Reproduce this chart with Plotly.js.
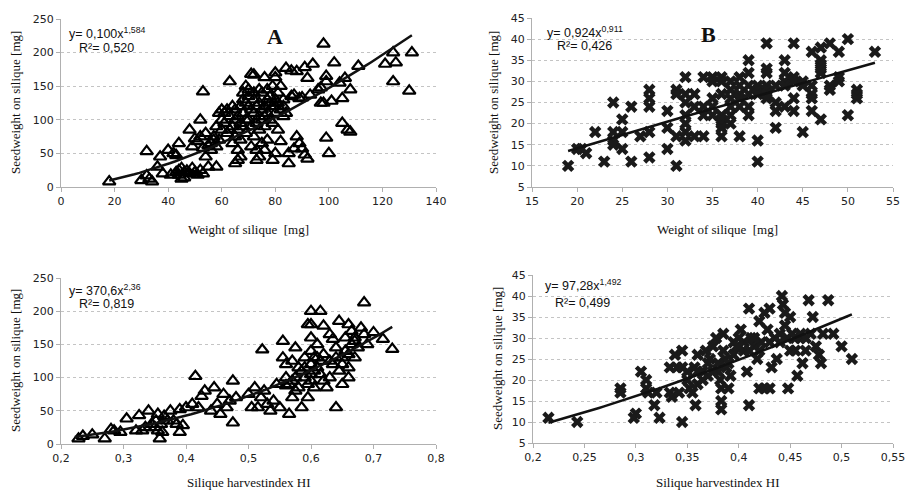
<!DOCTYPE html>
<html>
<head>
<meta charset="utf-8">
<script src="https://cdn.plot.ly/plotly-3.0.1.min.js"></script>
<style>html,body{margin:0;padding:0;background:#fff}#chart{width:906px;height:492px}</style>
</head>
<body>
<div id="chart"></div>
<script>
// ---- Panel A: weight of silique vs seed weight (triangles) ----
const aX = [18,30,32,33,34,32,36,37,38,40,41,42,43,43,44,44,45,45,46,46,47,48,49,50,51,52,53,44,48,49,50,51,52,52,53,53,54,54,55,56,55,57,58,58,59,60,60,61,62,62,63,63,64,64,65,65,65,66,66,66,65,67,67,67,68,68,68,69,69,69,70,70,70,71,71,71,72,72,72,72,72,73,73,73,74,74,74,74,75,75,75,76,76,76,76,77,77,77,77,78,78,79,79,79,80,80,80,80,80,81,81,82,82,82,83,83,84,85,85,86,86,87,87,88,88,89,89,90,90,91,91,92,92,93,94,96,97,97,98,98,99,99,99,100,101,102,104,105,105,106,107,108,108,111,121,124,124,125,130,131,56,57,58,59,60,61,63,64,66,67,68,69,70,71,73,74,75,76,78,79,80,81,83,84];
const aY = [8,10,17,12,8,53,30,45,20,55,18,50,47,22,25,18,12,28,22,14,24,20,28,22,18,25,20,65,85,60,72,68,75,100,142,58,80,45,62,55,30,70,30,90,110,85,100,95,80,115,157,105,120,90,115,100,75,85,55,40,35,45,70,95,110,130,140,150,100,80,135,120,145,168,90,60,167,140,130,110,75,55,95,40,45,125,105,145,140,115,65,55,163,90,120,145,130,110,70,100,135,40,120,150,170,163,130,110,50,85,125,68,115,150,105,120,177,50,35,135,173,137,57,172,75,132,65,133,57,178,48,42,162,137,183,145,125,148,213,125,165,157,73,50,128,185,155,132,95,162,85,82,145,180,183,200,157,185,143,200,65,75,60,70,115,110,85,65,105,120,90,125,100,115,120,85,100,105,125,95,120,140,130,110];
const aFit = [0.100, 1.584];   // y = a*x^b (from chart)
const aFitRange = [18, 131];

// ---- Panel B: weight of silique vs seed weight (crosses) ----
const bX = [19,20,20.5,21,22,23,24,24,24,24,25,25,25,26,26,27,28,28,28,28,28,30,30,30,31,31,31,31,32,32,32,32,32,32,32,33,33,33,34,34,34,34,35,35,35,35,35,36,36,36,36,36,36,36,36,37,37,37,37,37,37,38,38,38,38,38,38,39,39,39,39,39,39,40,40,40,40,40,41,41,41,41,41,41,41,42,42,42,42,43,43,43,43,43,44,44,44,44,44,45,45,45,46,46,46,46,46,47,47,47,47,47,47,48,48,48,49,49,49,50,50,51,51,51,53];
const bY = [10,14,14,13,18,11,25,18,16,15,21,18,14,24,11,17,28,26,24,18,12,23,19,14,28,27,17,10,31,27,25,22,20,18,16,27,24,17,31,24,22,17,31,30,26,24,22,31,30,27,22,21,20,19,17,30,28,26,24,22,20,31,29,27,26,24,17,35,32,29,27,24,22,29,28,27,16,11,39,33,32,29,28,27,26,29,25,23,19,35,32,30,29,24,39,31,30,26,23,30,29,18,37,29,27,26,23,38,35,34,33,32,21,39,29,28,37,31,30,40,22,28,27,26,37];
const bFit = [0.924, 0.911];
const bFitRange = [19, 53];

// ---- Panel C: silique harvest index vs seed weight (triangles) ----
const cX = [0.228,0.235,0.25,0.27,0.28,0.285,0.295,0.305,0.32,0.325,0.33,0.335,0.34,0.345,0.35,0.352,0.355,0.355,0.358,0.36,0.362,0.365,0.37,0.375,0.38,0.385,0.39,0.39,0.395,0.4,0.41,0.415,0.42,0.425,0.43,0.44,0.445,0.45,0.455,0.46,0.465,0.47,0.475,0.475,0.48,0.5,0.505,0.51,0.515,0.52,0.522,0.525,0.53,0.535,0.54,0.545,0.55,0.555,0.555,0.56,0.56,0.565,0.565,0.57,0.57,0.575,0.575,0.58,0.585,0.585,0.59,0.59,0.595,0.595,0.6,0.6,0.6,0.6,0.6,0.6,0.605,0.605,0.61,0.61,0.615,0.615,0.62,0.62,0.625,0.63,0.63,0.635,0.635,0.64,0.64,0.645,0.645,0.65,0.65,0.655,0.66,0.66,0.66,0.665,0.665,0.67,0.67,0.675,0.68,0.685,0.685,0.69,0.7,0.715,0.73,0.57,0.58,0.59,0.6,0.61,0.62,0.63,0.64,0.65,0.655,0.66,0.67,0.615,0.605,0.595,0.575,0.56];
const cY = [8,12,14,8,22,20,18,38,20,43,20,25,50,30,25,35,45,20,8,30,18,42,35,50,35,30,52,18,28,55,60,102,55,72,80,50,85,60,45,75,55,65,32,95,70,75,55,85,55,70,142,80,60,50,65,90,55,130,155,120,100,45,90,125,70,145,100,85,55,110,100,130,180,70,200,180,160,140,120,95,130,110,150,130,200,125,178,95,85,165,100,158,120,55,145,185,110,90,130,140,180,115,100,170,150,160,130,145,175,165,213,150,168,158,143,95,115,115,105,115,135,125,130,120,160,135,155,105,85,90,80,88];
const cFit = [370.6, 2.36];
const cFitRange = [0.222, 0.73];

// ---- Panel D: silique harvest index vs seed weight (crosses) ----
const dX = [0.215,0.243,0.285,0.285,0.298,0.3,0.305,0.31,0.31,0.312,0.318,0.32,0.323,0.333,0.333,0.335,0.338,0.34,0.342,0.345,0.345,0.345,0.35,0.352,0.355,0.357,0.358,0.36,0.36,0.365,0.368,0.37,0.372,0.375,0.378,0.38,0.38,0.382,0.383,0.383,0.383,0.385,0.385,0.387,0.388,0.39,0.392,0.395,0.398,0.4,0.402,0.405,0.405,0.408,0.41,0.41,0.412,0.415,0.418,0.42,0.42,0.422,0.425,0.425,0.428,0.43,0.43,0.432,0.435,0.437,0.44,0.442,0.443,0.445,0.445,0.447,0.448,0.45,0.45,0.452,0.455,0.457,0.46,0.462,0.465,0.468,0.47,0.472,0.475,0.478,0.48,0.482,0.487,0.492,0.5,0.51,0.395,0.4,0.41,0.415,0.42,0.43,0.44,0.39,0.37,0.365,0.455,0.46,0.465,0.375,0.35,0.36];
const dY = [11,10,18,17,11,12,22,20,18,17,14,17,11,23,17,16,26,23,17,27,23,10,20,18,17,23,14,26,19,22,27,21,25,28,30,24,22,20,18,15,13,31,27,25,23,18,21,29,28,30,32,29,27,22,37,14,30,28,25,34,18,29,36,18,32,37,18,23,30,25,31,40,38,36,33,30,18,35,27,31,27,21,30,24,27,39,31,35,28,26,24,31,39,31,28,25,26,28,27,30,27,29,29,24,24,20,30,31,30,22,22,22];
const dFit = [97.28, 1.492];
const dFitRange = [0.215, 0.51];

const yTitle = 'Seedweight on silique [mg]';
const xTitleTop = 'Weight of silique  [mg]';
const xTitleBottom = 'Silique harvestindex HI';

function fitLine(fit, range) {
  const xs = [], ys = [];
  const n = 60;
  for (let i = 0; i <= n; i++) {
    const x = range[0] + (range[1] - range[0]) * i / n;
    xs.push(x); ys.push(fit[0] * Math.pow(x, fit[1]));
  }
  return {xs, ys};
}

const tri = {symbol: 'triangle-up-open', size: 11, color: '#000', line: {width: 2.2, color: '#000'}};
const crs = {symbol: 'x', size: 11, color: '#1a1a1a', line: {width: 0}};
const lineStyle = {color: '#111', width: 2.5};

const panels = [
  {x: aX, y: aY, fit: aFit, r: aFitRange, m: tri, xa: 'x', ya: 'y'},
  {x: bX, y: bY, fit: bFit, r: bFitRange, m: crs, xa: 'x2', ya: 'y2'},
  {x: cX, y: cY, fit: cFit, r: cFitRange, m: tri, xa: 'x3', ya: 'y3'},
  {x: dX, y: dY, fit: dFit, r: dFitRange, m: crs, xa: 'x4', ya: 'y4'}
];
const traces = [];
panels.forEach(p => {
  traces.push({type: 'scatter', mode: 'markers', x: p.x, y: p.y, xaxis: p.xa, yaxis: p.ya, marker: p.m, hoverinfo: 'x+y'});
  const f = fitLine(p.fit, p.r);
  traces.push({type: 'scatter', mode: 'lines', x: f.xs, y: f.ys, xaxis: p.xa, yaxis: p.ya, line: lineStyle, hoverinfo: 'skip'});
});

const W = 906, H = 492;
const fx = v => v / W, fy = v => 1 - v / H;
const tickFont = {family: 'DejaVu Sans, sans-serif', size: 11, color: '#222'};
const titleFont = {family: 'Liberation Serif, serif', size: 13, color: '#111'};

function xAxis(dom, range, dtick, anchor) {
  return {domain: dom, range: range, dtick: dtick, tick0: range[0], anchor: anchor,
    showgrid: false, zeroline: false, showline: true, linecolor: '#b0b0b0', linewidth: 1,
    ticks: 'outside', ticklen: 4, tickcolor: '#b0b0b0', tickfont: tickFont,
    automargin: false, fixedrange: true};
}
function yAxis(dom, range, dtick, anchor) {
  return {domain: dom, range: range, dtick: dtick, tick0: range[0], anchor: anchor,
    showgrid: true, gridcolor: '#c4c4c4', griddash: 'dot', gridwidth: 1, zeroline: false,
    showline: true, linecolor: '#b0b0b0', linewidth: 1,
    ticks: 'outside', ticklen: 4, tickcolor: '#b0b0b0', tickfont: tickFont,
    automargin: false, fixedrange: true};
}

const eqFont = {family: 'Liberation Sans, sans-serif', size: 12.5, color: '#111'};
function eq(x, y, text) {
  return {xref: 'paper', yref: 'paper', x: fx(x), y: fy(y), xanchor: 'left', yanchor: 'middle', text: text, showarrow: false, font: eqFont};
}
function ttl(x, y, text, angle) {
  return {xref: 'paper', yref: 'paper', x: fx(x), y: fy(y), xanchor: 'center', yanchor: 'middle', text: text, textangle: angle, showarrow: false, font: titleFont};
}
const annotations = [
  {xref: 'paper', yref: 'paper', x: fx(265), y: fy(22), text: '<b>A</b>', showarrow: false, font: {family: 'Liberation Serif, serif', size: 22, color: '#111'}},
  {xref: 'paper', yref: 'paper', x: fx(718), y: fy(20), text: '<b>B</b>', showarrow: false, font: {family: 'Liberation Serif, serif', size: 22, color: '#111'}},
  eq(67, 33, 'y= 0,100x<sup>1,584</sup>'), eq(77, 48, 'R²= 0,520'),
  eq(545, 32, 'y= 0,924x<sup>0,911</sup>'), eq(555, 46, 'R²= 0,426'),
  eq(67, 290, 'y= 370,6x<sup>2,36</sup>'), eq(77, 304, 'R²= 0,819'),
  eq(543, 285, 'y= 97,28x<sup>1,492</sup>'), eq(553, 303, 'R²= 0,499'),
  ttl(15, 103, yTitle, -90), ttl(493, 103, yTitle, -90),
  ttl(15, 361, yTitle, -90), ttl(497, 359, yTitle, -90),
  ttl(248, 229, xTitleTop, 0), ttl(717, 229, xTitleTop, 0),
  ttl(248, 482, xTitleBottom, 0), ttl(717, 482, xTitleBottom, 0)
];

const layout = {
  width: W, height: H, margin: {l: 0, r: 0, t: 0, b: 0},
  paper_bgcolor: '#fff', plot_bgcolor: '#fff', showlegend: false,
  separators: ', ',
  xaxis: xAxis([fx(61), fx(436)], [0, 140], 20, 'y'),
  yaxis: yAxis([fy(187), fy(19)], [0, 250], 50, 'x'),
  xaxis2: xAxis([fx(532), fx(893)], [15, 55], 5, 'y2'),
  yaxis2: yAxis([fy(187), fy(18)], [5, 45], 5, 'x2'),
  xaxis3: xAxis([fx(61), fx(436)], [0.2, 0.8], 0.1, 'y3'),
  yaxis3: yAxis([fy(444), fy(278)], [0, 250], 50, 'x3'),
  xaxis4: xAxis([fx(533), fx(893)], [0.2, 0.55], 0.05, 'y4'),
  yaxis4: yAxis([fy(443), fy(275)], [5, 45], 5, 'x4'),
  annotations: annotations
};

Plotly.newPlot('chart', traces, layout, {displayModeBar: false, staticPlot: true});
</script>
</body>
</html>
